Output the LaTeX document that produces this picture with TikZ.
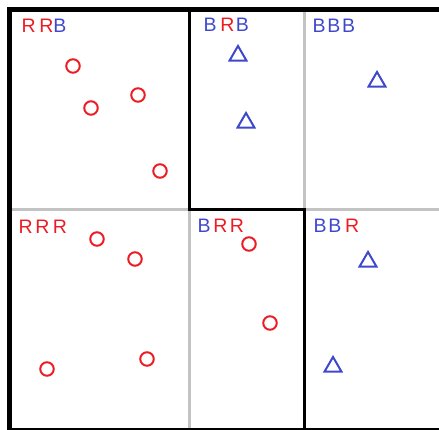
\documentclass[tikz,border=0pt]{standalone}
\usepackage{fontspec}
\newfontfamily\labfont{Liberation Sans}
\usetikzlibrary{shapes.geometric}
\definecolor{PaintRed}{HTML}{ED1C24}
\definecolor{PaintBlue}{HTML}{3F48CC}
\definecolor{PaintGray}{HTML}{C3C3C3}
\newcommand{\redR}{\textcolor{PaintRed}{R}}
\newcommand{\blueB}{\textcolor{PaintBlue}{B}}

\begin{document}
\begin{tikzpicture}[x=1pt, y=-1pt,
    frame/.style={line width=4.5pt, black},
    split/.style={line width=3pt, black},
    faint/.style={line width=3pt, PaintGray},
    lab/.style={font=\labfont\fontsize{19.5}{20}\selectfont,
      inner sep=0pt, anchor=base west},
    redpt/.style={circle, draw=PaintRed, line width=2pt,
      minimum size=13.5pt, inner sep=0pt},
    bluept/.style={regular polygon, regular polygon sides=3,
      draw=PaintBlue, line width=2pt, minimum size=19.5pt, inner sep=0pt}
  ]
  \useasboundingbox (0,0) rectangle (439,430);

  % grey split lines first, black ones on top
  \draw[faint] (10,210) -- (441,210);
  \draw[faint] (189,10) -- (189,430);
  \draw[faint] (304,10) -- (304,430);
  \draw[split] (189,9.5) -- (189,210) -- (304,210) -- (304,432);
  \draw[frame] (441,9.5) -- (9.5,9.5) -- (9.5,430.5) -- (441,430.5);

  % cell labels
  \node[lab] (lab1) at (21.4,33)  {\redR\hspace{3.6pt}\redR\blueB};
  \node[lab] (lab2) at (203.4,32) {\blueB\hspace{3.7pt}\redR\hspace{1.6pt}\blueB};
  \node[lab] (lab3) at (312.4,33) {\blueB\hspace{1.7pt}\blueB\hspace{1.7pt}\blueB};
  \node[lab] (lab4) at (18.4,234) {\redR\hspace{2.6pt}\redR\hspace{3.6pt}\redR};
  \node[lab] (lab5) at (197.4,233) {\blueB\hspace{2.7pt}\redR\hspace{2.6pt}\redR};
  \node[lab] (lab6) at (313.4,233) {\blueB\hspace{1.7pt}\blueB\hspace{3.7pt}\redR};

  % red points
  \node[redpt] (r1) at (73,66)   {};
  \node[redpt] (r2) at (138,95)  {};
  \node[redpt] (r3) at (91,108)  {};
  \node[redpt] (r4) at (160,171) {};
  \node[redpt] (r5) at (97,239)  {};
  \node[redpt] (r6) at (135,259) {};
  \node[redpt] (r7) at (47,369)  {};
  \node[redpt] (r8) at (147,359) {};
  \node[redpt] (r9) at (249,244) {};
  \node[redpt] (r10) at (270,323) {};

  % blue points
  \node[bluept] (b1) at (238,55.7)  {};
  \node[bluept] (b2) at (246,122.7) {};
  \node[bluept] (b3) at (377,81.7)  {};
  \node[bluept] (b4) at (368,261.7) {};
  \node[bluept] (b5) at (333,366.7) {};

\end{tikzpicture}
\end{document}
